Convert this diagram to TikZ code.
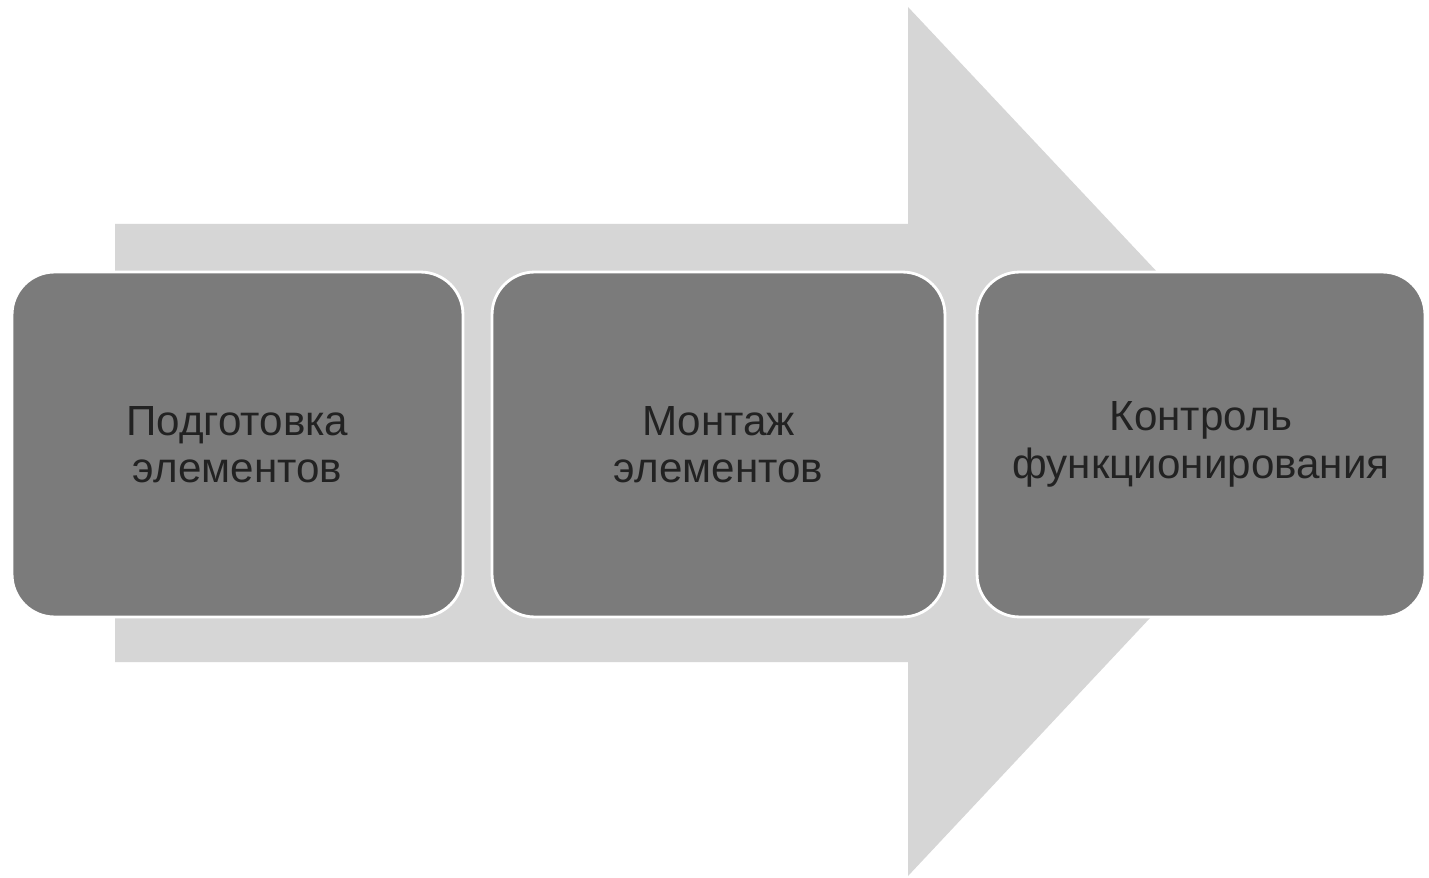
\documentclass[tikz,border=0pt]{standalone}
\usepackage{fontspec}
\setmainfont{Liberation Sans}
\definecolor{arrowgray}{HTML}{D6D6D6}
\definecolor{boxgray}{HTML}{7B7B7B}
\definecolor{textgray}{HTML}{222222}
\tikzset{
  stagebox/.style={draw=white, line width=1.6pt, fill=boxgray, rounded corners=0.85cm,
    minimum height=6.9cm, inner sep=0pt, align=center, text=textgray,
    font=\fontsize{24}{27}\selectfont},
}
\begin{document}
\begin{tikzpicture}[x=0.02cm,y=-0.02cm]
\useasboundingbox (0,0) rectangle (1429,878);
\fill[white] (0,0) rectangle (1429,878);
% big background arrow
\fill[arrowgray] (115,224) -- (908,224) -- (908,7) -- (1316,441) -- (908,876) -- (908,662) -- (115,662) -- cycle;
% stages
\node[stagebox, minimum width=9.02cm] (b1) at (237.5,444.5) {Подготовка\\элементов};
\node[stagebox, minimum width=9.06cm] (b2) at (718.5,444.5) {Монтаж\\элементов};
\node[stagebox, minimum width=8.96cm] (b3) at (1201,444.5) {Контроль\\функционирования};
\end{tikzpicture}
\end{document}
